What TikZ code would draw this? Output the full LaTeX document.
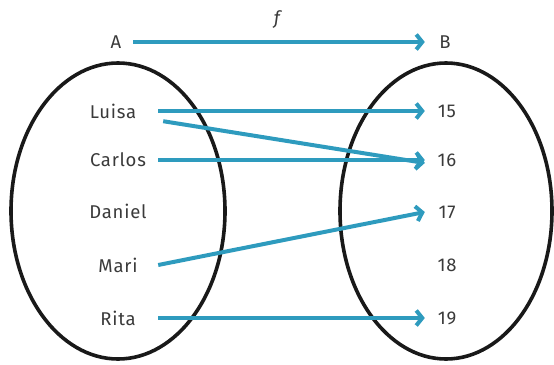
\documentclass[tikz,border=0pt]{standalone}
\usepackage{fontspec}
\setmainfont{Fira Sans}[LetterSpace=4]
\usetikzlibrary{arrows.meta}
\definecolor{arrblue}{HTML}{2E9BBE}
\definecolor{txt}{HTML}{3A3A3A}
\tikzset{
  arr/.style={draw=arrblue, line width=4pt, -{Straight Barb[length=6pt,width=15pt,line width=4pt]}},
  setellipse/.style={draw=black!90, line width=3.6pt},
  lname/.style={font=\fontsize{18.5}{22}\selectfont, text=txt, minimum width=80pt, inner sep=0pt, minimum height=20pt},
  rnum/.style={font=\fontsize{18.5}{22}\selectfont, text=txt, minimum width=44pt, inner sep=0pt, minimum height=20pt},
}
\begin{document}
\begin{tikzpicture}[x=1pt,y=-1pt]
\useasboundingbox (0,0) rectangle (554,364);
\draw[setellipse] (118,211) ellipse [x radius=107, y radius=148];
\draw[setellipse] (446,211) ellipse [x radius=106, y radius=148];

\node[lname, minimum width=34pt] (A) at (116,42) {A};
\node[rnum, minimum width=40pt] (B) at (445,42) {B};
\node[font=\fontsize{18.5}{22}\selectfont\itshape, text=txt] (f) at (277,20) {f};

\node[lname, minimum width=90pt] (luisa) at (113,111) {Luisa};
\node[lname] (carlos) at (118,160) {Carlos};
\node[lname] (daniel) at (118,211) {Daniel};
\node[lname] (mari) at (118,265) {Mari};
\node[lname] (rita) at (118,318) {Rita};

\node[rnum] (n15) at (447,111) {15};
\node[rnum] (n16) at (447,160) {16};
\node[rnum] (n17) at (447,212) {17};
\node[rnum] (n18) at (447,265) {18};
\node[rnum] (n19) at (447,318) {19};

\draw[arr] (A.east) -- (B.west);
\draw[arr] (luisa.east) -- (n15.west);
\draw[arr] ([xshift=5pt]luisa.south east) -- ([yshift=-3pt]n16.west);
\draw[arr] (carlos.east) -- (n16.west);
\draw[arr] (mari.east) -- (n17.west);
\draw[arr] (rita.east) -- (n19.west);
\end{tikzpicture}
\end{document}
